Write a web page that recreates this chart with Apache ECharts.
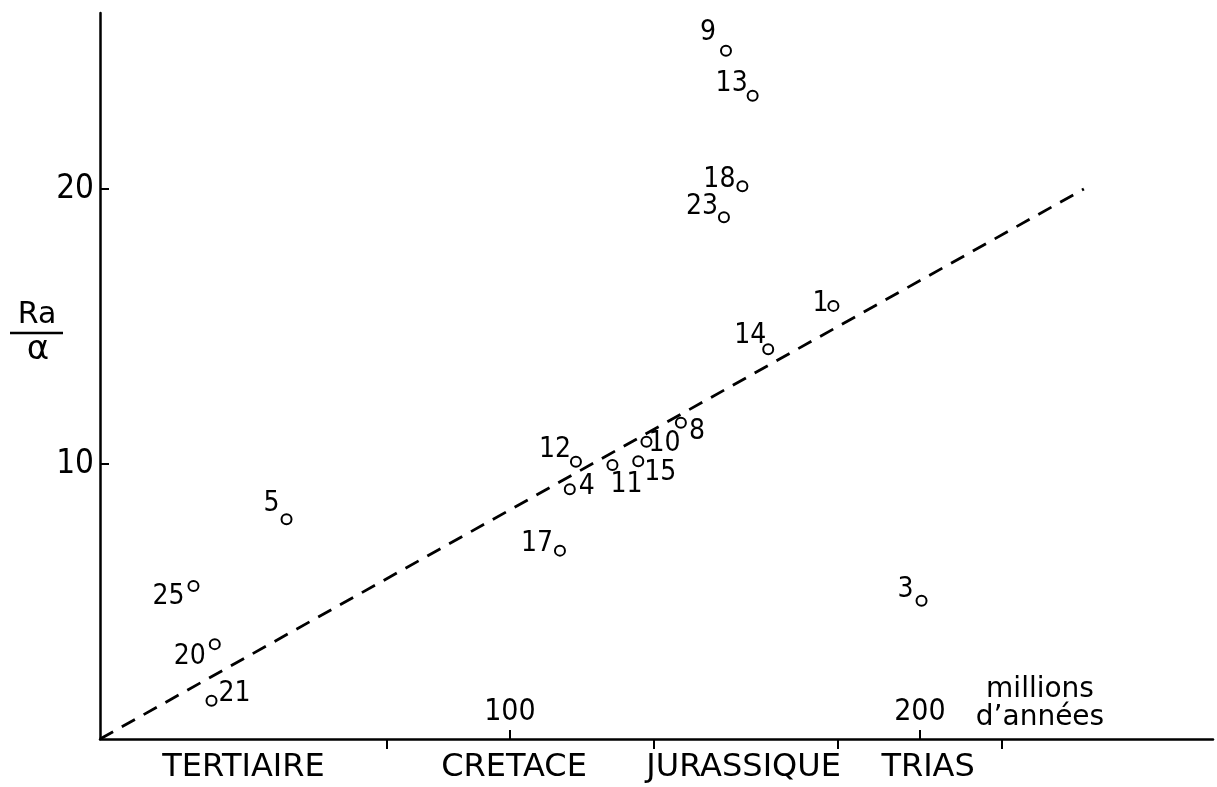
<!DOCTYPE html>
<html><head><meta charset="utf-8">
<script src="https://cdn.jsdelivr.net/npm/echarts@6/dist/echarts.min.js"></script>
<style>html,body{margin:0;padding:0;background:#fff}#c{width:1217px;height:787px}</style>
</head><body><div id="c"></div>
<script>
// ---- data ----
const sampleIds = ['1','3','4','5','8','9','10','11','12','13','14','15','17','18','20','21','23','25'];
const agesMa   = [178.9, 200.4, 114.6, 45.5, 141.7, 152.7, 133.3, 125.0, 116.1, 159.2, 163.0, 131.3, 112.2, 156.7, 28.0, 27.2, 152.2, 22.8];
const raAlpha  = [15.75, 5.03, 9.08, 7.99, 11.5, 25.03, 10.81, 9.96, 10.08, 23.39, 14.17, 10.1, 6.85, 20.1, 3.45, 1.39, 18.97, 5.56];
const trendAges = [0, 240];
const trendRatios = [0, 20];
const xTickValues = [100, 200];
const yTickValues = [10, 20];
const eraNames = ['TERTIAIRE', 'CRETACE', 'JURASSIQUE', 'TRIAS'];
const eraBoundaries = [70, 135, 180, 220];
const eraLabelAt = [35, 101, 157, 202];

// ---- styles ----
const NUM_FONT = "'Liberation Sans Narrow', 'DejaVu Sans Condensed', 'Liberation Sans', sans-serif";
const TXT_FONT = "'DejaVu Sans', 'Liberation Sans', sans-serif";
const labelOffsets = {
  '1': [-13, -2], '3': [-16, -11], '4': [17, -3], '5': [-15, -16], '8': [16, 9],
  '9': [-18, -18], '10': [18, 2], '11': [14, 20], '12': [-21, -12], '13': [-21, -12],
  '14': [-18, -14], '15': [22, 11], '17': [-23, -7], '18': [-23, -7], '20': [-25, 13],
  '21': [23, -7], '23': [-22, -11], '25': [-25, 11]
};

const points = sampleIds.map((id, i) => ({
  value: [agesMa[i], raAlpha[i]],
  name: id,
  label: { offset: labelOffsets[id] || [0, 0] }
}));
const trend = trendAges.map((a, i) => [a, trendRatios[i]]);

const chart = echarts.init(document.getElementById('c'), null, { renderer: 'canvas' });
const axisLine = { show: true, lineStyle: { color: '#000', width: 2.5 } };
chart.setOption({
  animation: false,
  backgroundColor: '#fff',
  grid: { left: 100, top: 13, right: 4, bottom: 48, containLabel: false, outerBoundsMode: 'none' },
  xAxis: [
    {
      type: 'value', position: 'bottom', min: 0, max: 271.5,
      axisLine: axisLine,
      splitLine: { show: false },
      axisTick: { show: true, inside: true, length: 9, lineStyle: { color: '#000', width: 2 }, customValues: xTickValues },
      axisLabel: { inside: true, margin: 12, color: '#000', fontSize: 30, fontFamily: NUM_FONT, customValues: xTickValues }
    },
    {
      type: 'value', position: 'bottom', min: 0, max: 271.5,
      axisLine: { show: false },
      splitLine: { show: false },
      axisTick: { show: true, inside: false, length: 10, lineStyle: { color: '#000', width: 2 }, customValues: eraBoundaries },
      axisLabel: {
        margin: 13, color: '#000', fontSize: 32, fontFamily: TXT_FONT, customValues: eraLabelAt,
        formatter: v => { const k = eraLabelAt.indexOf(v); return k >= 0 ? eraNames[k] : ''; }
      }
    }
  ],
  yAxis: {
    type: 'value', min: 0, max: 26.4,
    axisLine: axisLine,
    splitLine: { show: false },
    axisTick: { show: true, inside: true, length: 9, lineStyle: { color: '#000', width: 2 }, customValues: yTickValues },
    axisLabel: { margin: 6, color: '#000', fontSize: 33, fontFamily: NUM_FONT, customValues: yTickValues }
  },
  series: [
    {
      type: 'line', data: trend, symbol: 'none', silent: true,
      lineStyle: { color: '#000', width: 2.8, type: [15, 10] }
    },
    {
      type: 'scatter', data: points, symbol: 'circle', symbolSize: 10,
      itemStyle: { color: '#fff', borderColor: '#000', borderWidth: 2, opacity: 1 },
      label: {
        show: true, position: 'inside', formatter: p => p.name,
        color: '#000', fontSize: 28, fontFamily: NUM_FONT
      },
      z: 3
    }
  ],
  graphic: [
    { type: 'text', x: 37, y: 315, style: { text: 'Ra', font: "30px " + TXT_FONT, fill: '#000', align: 'center', verticalAlign: 'middle' } },
    { type: 'line', shape: { x1: 10, y1: 333, x2: 63, y2: 333 }, style: { stroke: '#000', lineWidth: 2.5 } },
    { type: 'text', x: 38, y: 350, style: { text: 'α', font: "34px " + TXT_FONT, fill: '#000', align: 'center', verticalAlign: 'middle' } },
    { type: 'text', x: 1040, y: 690, style: { text: 'millions', font: "28px " + TXT_FONT, fill: '#000', align: 'center', verticalAlign: 'middle' } },
    { type: 'text', x: 1040, y: 718, style: { text: 'd\u2019années', font: "28px " + TXT_FONT, fill: '#000', align: 'center', verticalAlign: 'middle' } }
  ]
});
</script>
</body></html>
